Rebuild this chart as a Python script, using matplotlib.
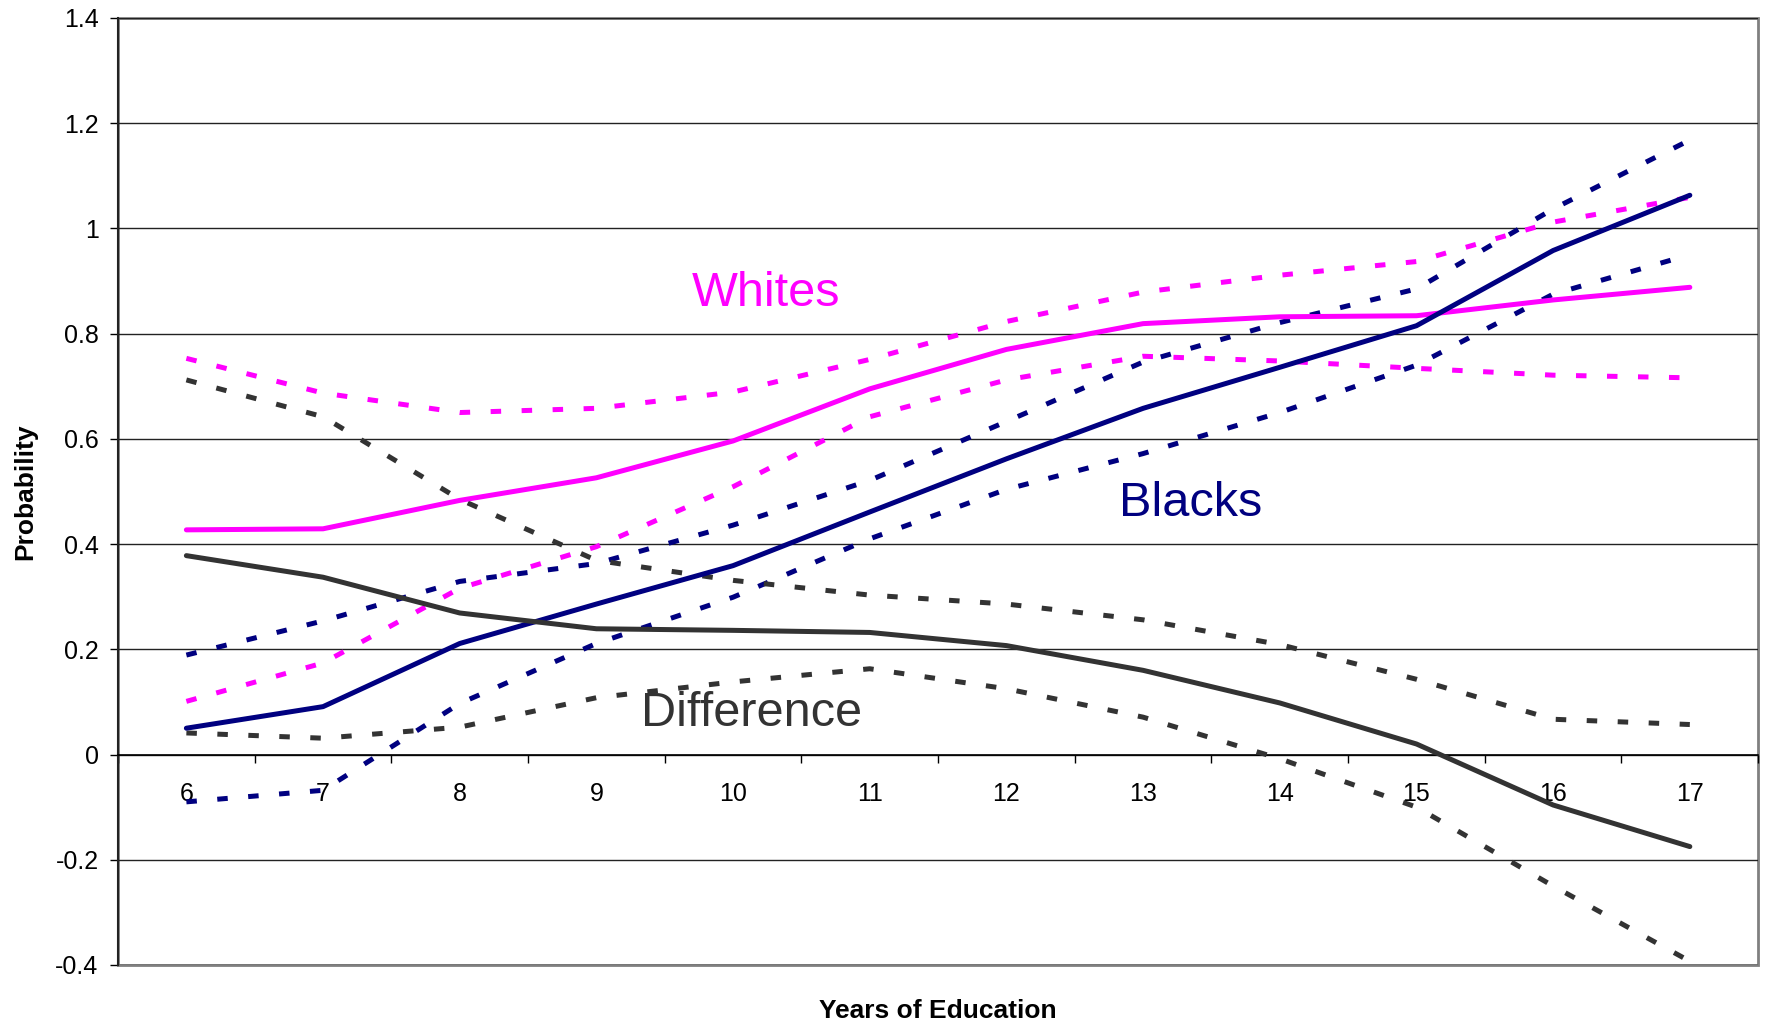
import numpy as np
import matplotlib
matplotlib.use("Agg")
import matplotlib.pyplot as plt
from matplotlib.patches import Rectangle

plt.rcParams["font.family"] = ["Liberation Sans", "DejaVu Sans"]

years = [6, 7, 8, 9, 10, 11, 12, 13, 14, 15, 16, 17]

whites = [0.427, 0.429, 0.483, 0.526, 0.596, 0.695, 0.770, 0.819, 0.832, 0.834, 0.864, 0.888]
whites_hi = [0.753, 0.687, 0.650, 0.658, 0.689, 0.751, 0.823, 0.879, 0.911, 0.937, 1.012, 1.059]
whites_lo = [0.101, 0.174, 0.316, 0.395, 0.509, 0.642, 0.712, 0.757, 0.748, 0.734, 0.721, 0.716]

blacks = [0.050, 0.091, 0.211, 0.286, 0.359, 0.461, 0.562, 0.658, 0.736, 0.815, 0.958, 1.063]
blacks_hi = [0.189, 0.254, 0.329, 0.363, 0.436, 0.521, 0.633, 0.746, 0.821, 0.885, 1.037, 1.168]
blacks_lo = [-0.090, -0.068, 0.097, 0.211, 0.299, 0.410, 0.504, 0.572, 0.650, 0.740, 0.875, 0.950]

diff = [0.378, 0.337, 0.269, 0.239, 0.236, 0.232, 0.207, 0.160, 0.098, 0.020, -0.096, -0.175]
diff_hi = [0.712, 0.642, 0.485, 0.369, 0.331, 0.303, 0.286, 0.256, 0.209, 0.143, 0.067, 0.057]
diff_lo = [0.041, 0.031, 0.052, 0.108, 0.138, 0.163, 0.125, 0.071, -0.008, -0.100, -0.250, -0.393]

MAGENTA = "#FF00FF"
NAVY = "#000080"
GREY = "#333333"

fig = plt.figure(figsize=(17.67, 10.26), dpi=100)
ax = fig.add_axes([0.0668, 0.0595, 0.9282, 0.923])

lw = 3.6
dash = (2.1, 4.1)

for mid, hi, lo, col in [(whites, whites_hi, whites_lo, MAGENTA),
                         (blacks, blacks_hi, blacks_lo, NAVY),
                         (diff, diff_hi, diff_lo, GREY)]:
    ax.plot(years, hi, color=col, lw=lw, dashes=dash, dash_capstyle="butt", zorder=3)
    ax.plot(years, lo, color=col, lw=lw, dashes=dash, dash_capstyle="butt", zorder=3)
    ax.plot(years, mid, color=col, lw=lw, solid_capstyle="round", zorder=4)

ax.text(10.24, 0.852, "Whites", color=MAGENTA, fontsize=35, ha="center", va="baseline")
ax.text(13.35, 0.453, "Blacks", color=NAVY, fontsize=35, ha="center", va="baseline")
ax.text(10.135, 0.054, "Difference", color=GREY, fontsize=35, ha="center", va="baseline")

ax.set_xlim(5.5, 17.5)
ax.set_ylim(-0.4, 1.4)

# y axis
yt = np.round(np.arange(-0.4, 1.41, 0.2), 1)
ax.set_yticks(yt)
ax.set_yticklabels([f"{v:g}" for v in yt])
ax.tick_params(axis="y", length=6, width=1, pad=8, labelsize=18, colors="black")
ax.grid(axis="y", color="#222222", lw=1.0, zorder=1)

# x axis sits on y = 0, ticks between categories
ax.spines["bottom"].set_position(("data", 0))
ax.set_xticks(np.arange(5.5, 17.6, 1.0))
ax.set_xticklabels([])
ax.set_xticks(years, minor=True)
ax.set_xticklabels([str(y) for y in years], minor=True)
ax.tick_params(axis="x", which="major", length=6, width=1, direction="out")
ax.tick_params(axis="x", which="minor", length=0, pad=20, labelsize=18)

ax.spines["top"].set_visible(False)
ax.spines["right"].set_visible(False)
ax.spines["left"].set_color("#222222")
ax.spines["left"].set_linewidth(1.5)
ax.spines["bottom"].set_color("#000000")
ax.spines["bottom"].set_linewidth(1.2)

ax.add_patch(Rectangle((0, 0), 1, 1, transform=ax.transAxes, fill=False,
                       edgecolor="#808080", lw=2, zorder=0, clip_on=False))

fig.text(0.531, 0.0145, "Years of Education", fontsize=19, fontweight="bold",
         ha="center", va="center")
fig.text(0.0141, 0.521, "Probability", fontsize=19, fontweight="bold",
         ha="center", va="center", rotation=90)

fig.savefig("out.png", dpi=100)
